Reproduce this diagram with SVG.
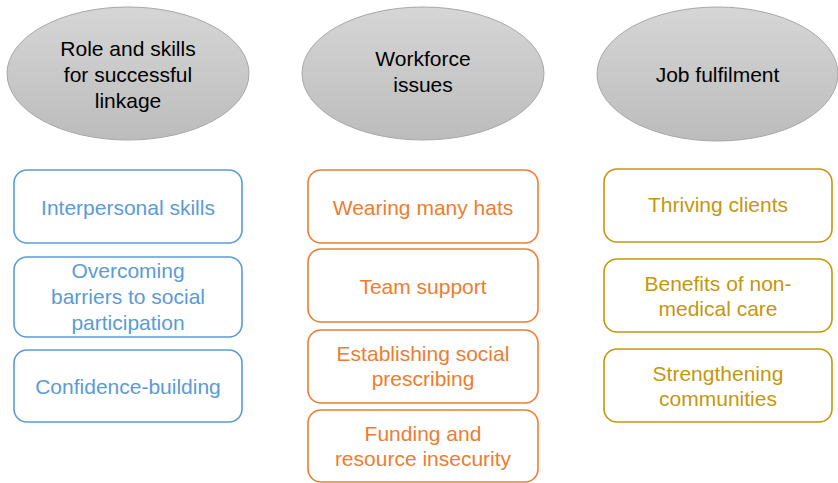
<svg xmlns="http://www.w3.org/2000/svg" width="838" height="483" viewBox="0 0 838 483">
<defs>
<linearGradient id="g" x1="0" y1="0" x2="0" y2="1">
<stop offset="0" stop-color="#d6d6d6"/>
<stop offset="1" stop-color="#bcbcbc"/>
</linearGradient>
</defs>
<style>
.hd{fill:url(#g);stroke:#a8a8a8;stroke-width:1}
.ht{font-family:"Liberation Sans",Arial,sans-serif;font-size:21px;fill:#000;text-anchor:middle;dominant-baseline:central}
.bx{fill:#fff;stroke-width:1.6}
.t{font-family:"Liberation Sans",Arial,sans-serif;font-size:21px;text-anchor:middle;dominant-baseline:central}
.b{stroke:#5b9bd5}.bt{fill:#5b9bd5}
.o{stroke:#ed7d31}.ot{fill:#ed7d31}
.y{stroke:#c4970f}.yt{fill:#c4970f}
</style>
<g id="connectors"></g>
<g id="h1"><ellipse class="hd" cx="128" cy="73.5" rx="121" ry="66.5"/>
<text class="ht" x="128" y="48">Role and skills</text><text class="ht" x="128" y="74">for successful</text><text class="ht" x="128" y="100">linkage</text></g>
<g id="h2"><ellipse class="hd" cx="423" cy="73.5" rx="121" ry="66.5"/>
<text class="ht" x="423" y="58">Workforce</text><text class="ht" x="423" y="84">issues</text></g>
<g id="h3"><ellipse class="hd" cx="717.5" cy="74" rx="120.5" ry="67"/>
<text class="ht" x="717.5" y="74">Job fulfilment</text></g>

<g id="b1"><rect class="bx b" x="14" y="170" width="228" height="73" rx="13"/><text class="t bt" x="128" y="207">Interpersonal skills</text></g>
<g id="b2"><rect class="bx b" x="14" y="257" width="228" height="80" rx="13"/><text class="t bt" x="128" y="270">Overcoming</text><text class="t bt" x="128" y="296.5">barriers to social</text><text class="t bt" x="128" y="322">participation</text></g>
<g id="b3"><rect class="bx b" x="14" y="350" width="228" height="72" rx="13"/><text class="t bt" x="128" y="386">Confidence-building</text></g>

<g id="o1"><rect class="bx o" x="308" y="170" width="230" height="73" rx="13"/><text class="t ot" x="423" y="207">Wearing many hats</text></g>
<g id="o2"><rect class="bx o" x="308" y="249" width="230" height="73" rx="13"/><text class="t ot" x="423" y="286">Team support</text></g>
<g id="o3"><rect class="bx o" x="308" y="330" width="230" height="73" rx="13"/><text class="t ot" x="423" y="353">Establishing social</text><text class="t ot" x="423" y="378">prescribing</text></g>
<g id="o4"><rect class="bx o" x="308" y="410" width="230" height="72" rx="13"/><text class="t ot" x="423" y="433">Funding and</text><text class="t ot" x="423" y="458">resource insecurity</text></g>

<g id="y1"><rect class="bx y" x="604" y="169" width="228" height="73" rx="13"/><text class="t yt" x="718" y="204">Thriving clients</text></g>
<g id="y2"><rect class="bx y" x="604" y="259" width="228" height="73" rx="13"/><text class="t yt" x="718" y="283">Benefits of non-</text><text class="t yt" x="718" y="308">medical care</text></g>
<g id="y3"><rect class="bx y" x="604" y="349" width="228" height="73" rx="13"/><text class="t yt" x="718" y="373">Strengthening</text><text class="t yt" x="718" y="398">communities</text></g>
</svg>
